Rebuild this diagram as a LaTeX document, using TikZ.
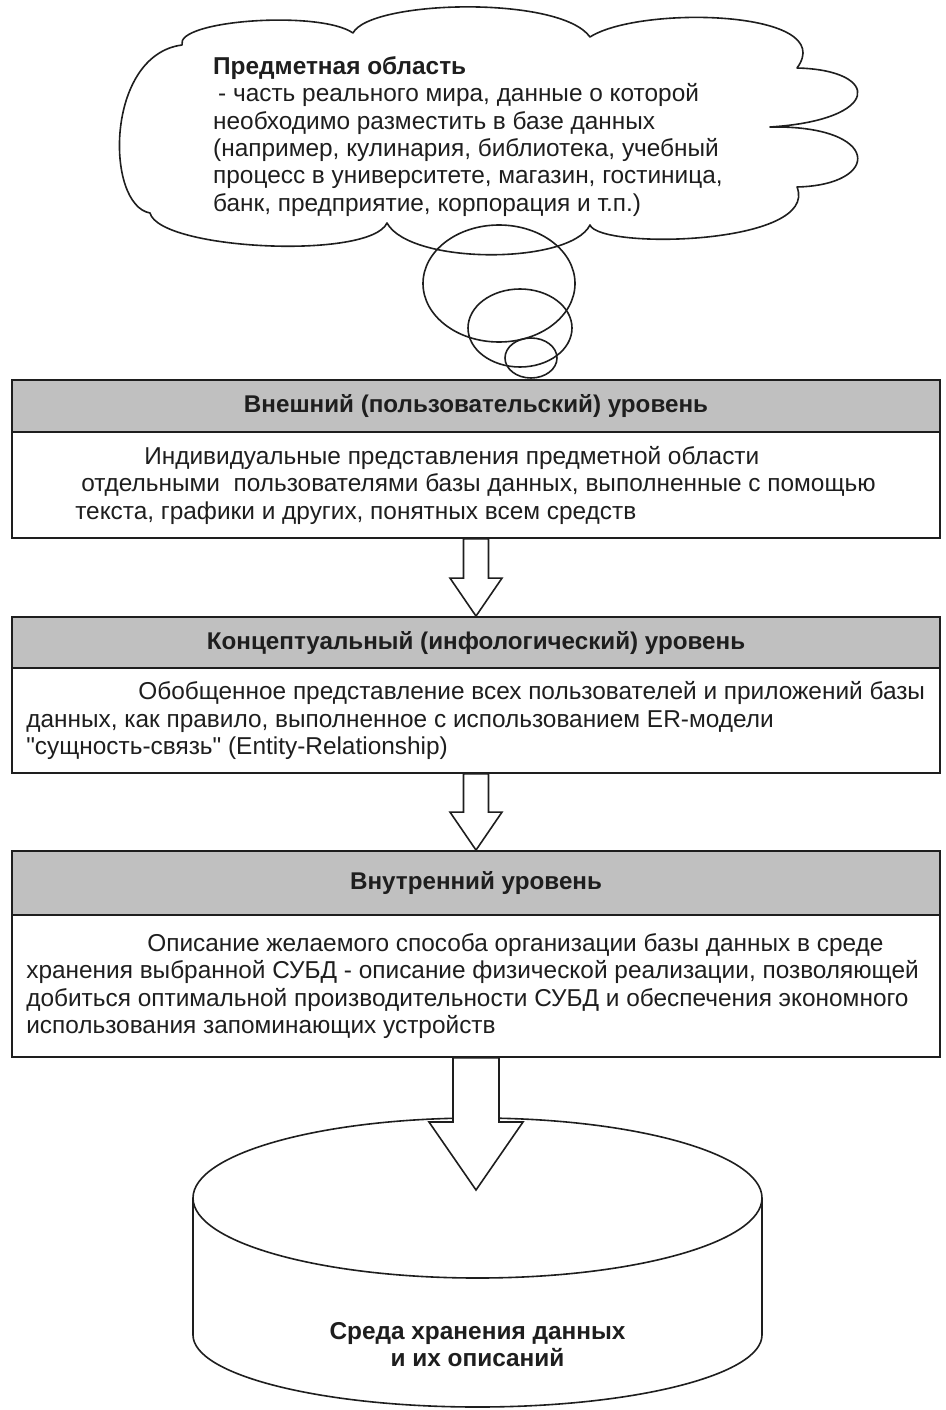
\documentclass[tikz,border=0pt]{standalone}
\usepackage{fontspec}
\setmainfont{Liberation Sans}
\usetikzlibrary{calc}

\definecolor{hdgray}{RGB}{192,192,192}
\definecolor{ink}{RGB}{30,30,30}

% block arrow from one anchor down to another: shaft half-width, head half-width, head length
\newcommand\blockarrow[5]{%
  \draw[arrowbody] let \p1=(#1), \p2=(#2) in
    (\x1-#3,\y1) -- (\x1-#3,\y2+#5) -- (\x1-#4,\y2+#5) -- (\x1,\y2)
    -- (\x1+#4,\y2+#5) -- (\x1+#3,\y2+#5) -- (\x1+#3,\y1) -- cycle;}

\begin{document}
\begin{tikzpicture}[x=1pt,y=-1pt,
  outline/.style={draw=ink, line width=1.6pt},
  header/.style={draw=ink, line width=1.8pt, fill=hdgray, minimum width=928pt,
    inner sep=0pt, text=ink, font=\fontsize{24.2}{27.5}\selectfont\bfseries},
  body/.style={draw=ink, line width=1.8pt, fill=white, minimum width=928pt, inner sep=0pt},
  bodytext/.style={align=left, anchor=west, inner sep=0pt, text=ink,
    font=\fontsize{24.4}{27.5}\selectfont},
  cloudtext/.style={align=left, anchor=west, inner sep=0pt, text=ink,
    font=\fontsize{24.4}{27.3}\selectfont},
  arrowbody/.style={draw=ink, line width=1.6pt, fill=white, line join=miter},
]
\useasboundingbox (0,0) rectangle (945,1410);

% ---- thought cloud ----
\draw[outline, line join=round]
  (182,45) .. controls (175,20) and (320,10) .. (353,33)
  .. controls (370,0) and (560,-5) .. (590,37)
  .. controls (640,5) and (840,10) .. (797,68)
  .. controls (882,70) and (882,120) .. (770,127)
  .. controls (882,125) and (882,185) .. (797,187)
  .. controls (820,245) and (600,250) .. (590,225)
  .. controls (570,265) and (410,265) .. (387,223)
  .. controls (370,260) and (160,250) .. (150,213)
  .. controls (105,205) and (105,55) .. (182,45) -- cycle;

\node[cloudtext] (subject) at (213,136.5)
  {\textbf{Предметная область}\\
   \hspace*{5pt}- часть реального мира, данные о которой\\
   необходимо разместить в базе данных\\
   (например, кулинария, библиотека, учебный\\
   процесс в университете, магазин, гостиница,\\
   банк, предприятие, корпорация и т.п.)};

% thought bubbles
\draw[outline] (499,283.5) ellipse [x radius=76, y radius=58.5];
\draw[outline] (520,328) ellipse [x radius=52, y radius=39];
\draw[outline] (531,358) ellipse [x radius=26, y radius=20];

% ---- level boxes ----
\node[header, minimum height=52pt] (hd1) at (476,406) {Внешний (пользовательский) уровень};
\node[body, minimum height=106pt] (bd1) at (476,485) {};
\node[bodytext] (tx1) at ([xshift=64pt]bd1.west)
  {\hspace*{69pt}Индивидуальные представления предметной области\\
   \hspace*{6pt}отдельными\ \ пользователями базы данных, выполненные с помощью\\
   текста, графики и других, понятных всем средств};

\node[header, minimum height=51pt] (hd2) at (476,642.5) {Концептуальный (инфологический) уровень};
\node[body, minimum height=105pt] (bd2) at (476,720.5) {};
\node[bodytext] (tx2) at ([xshift=15pt]bd2.west)
  {\hspace*{112pt}Обобщенное представление всех пользователей и приложений базы\\
   данных, как правило, выполненное с использованием ER-модели\\
   \textquotedbl сущность-связь\textquotedbl\ (Entity-Relationship)};

\node[header, minimum height=64pt] (hd3) at (476,883) {Внутренний уровень};
\node[body, minimum height=142pt] (bd3) at (476,986) {};
\node[bodytext] (tx3) at ([xshift=15pt]bd3.west)
  {\hspace*{121pt}Описание желаемого способа организации базы данных в среде\\
   хранения выбранной СУБД - описание физической реализации, позволяющей\\
   добиться оптимальной производительности СУБД и обеспечения экономного\\
   использования запоминающих устройств};

% ---- storage cylinder ----
\draw[outline, fill=white]
  (193,1198) -- (193,1335) arc[start angle=180, end angle=360, x radius=284.5, y radius=-72]
  -- (762,1198);
\draw[outline] (477.5,1198) ellipse [x radius=284.5, y radius=80];
\node[align=center, inner sep=0pt, text=ink, font=\fontsize{24.4}{27}\selectfont\bfseries]
  (store) at (477.5,1344.5) {Среда хранения данных\\и их описаний};
\coordinate (storetop) at (476,1190);

% ---- arrows between levels ----
\blockarrow{bd1.south}{hd2.north}{12.5pt}{26pt}{38pt}
\blockarrow{bd2.south}{hd3.north}{12.5pt}{26pt}{38pt}
\blockarrow{bd3.south}{storetop}{23pt}{47pt}{68pt}
\end{tikzpicture}
\end{document}
